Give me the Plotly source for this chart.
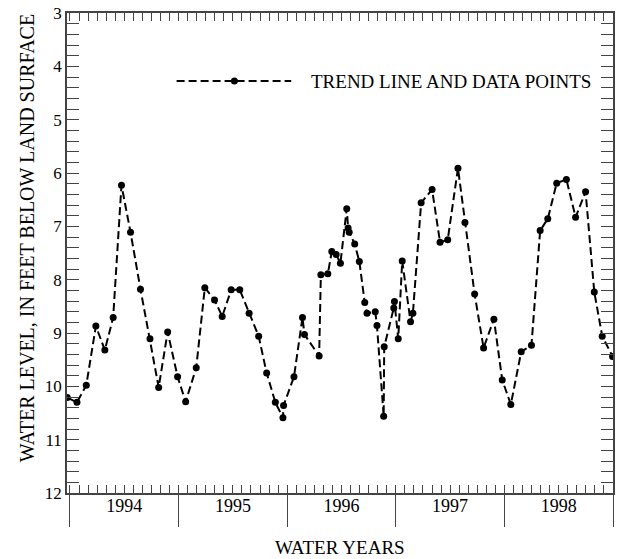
import plotly.graph_objects as go

# months since the start of water year 1994 (Oct 1993)
months = [-0.30, 0.77, 1.80, 2.86, 3.85, 4.77, 5.69, 6.69, 7.79, 8.84,
          9.80, 10.79, 11.89, 12.78, 13.95, 14.90, 15.97, 16.82, 17.81, 18.76,
          19.79, 20.85, 21.73, 22.69, 23.53, 23.60, 24.75, 25.69, 25.91, 27.53,
          27.72, 28.49, 28.93, 29.41, 29.88, 30.58, 30.73, 30.85, 31.46, 31.97,
          32.57, 32.82, 33.73, 33.92, 34.66, 34.72, 35.78, 35.85, 36.27, 36.71,
          37.63, 37.89, 38.80, 40.01, 40.89, 41.74, 42.87, 43.64, 44.71, 45.70,
          46.84, 47.76, 48.71, 49.86, 50.99, 51.95, 52.79, 53.78, 54.85, 55.87,
          56.97, 57.93, 58.81, 59.95]
water_level = [10.21, 10.30, 9.98, 8.87, 9.32, 8.71, 6.23, 7.11, 8.18, 9.11,
               10.02, 8.98, 9.82, 10.29, 9.65, 8.15, 8.38, 8.69, 8.19, 8.19,
               8.63, 9.06, 9.75, 10.30, 10.59, 10.36, 9.82, 8.71, 9.03, 9.43,
               7.91, 7.89, 7.47, 7.53, 7.69, 6.67, 7.03, 7.11, 7.33, 7.66,
               8.43, 8.63, 8.60, 8.86, 10.56, 9.26, 8.53, 8.41, 9.11, 7.65,
               8.79, 8.63, 6.56, 6.31, 7.30, 7.25, 5.91, 6.93, 8.27, 9.28,
               8.74, 9.88, 10.34, 9.35, 9.23, 7.08, 6.86, 6.19, 6.12, 6.83,
               6.35, 8.23, 9.06, 9.44]

year_bounds = [0, 12, 24, 36, 48, 60]
year_mids = [6, 18, 30, 42, 54]
year_labels = ['1994', '1995', '1996', '1997', '1998']

FONT = 'Liberation Serif'
AXC = '#444'

fig = go.Figure()
fig.add_trace(go.Scatter(
    x=months, y=water_level,
    mode='lines+markers',
    line=dict(color='black', width=2, dash='8px,4px'),
    marker=dict(color='black', size=7),
    name='TREND LINE AND DATA POINTS',
    showlegend=False
))
# invisible copies so the overlay axes (year ticks and labels) get drawn
for ax in ['x2', 'x3']:
    fig.add_trace(go.Scatter(x=months, y=water_level, xaxis=ax, mode='lines',
                             opacity=0, hoverinfo='skip', showlegend=False))

xr = [-0.33, 60]

fig.update_layout(
    width=618, height=559,
    margin=dict(l=67, r=3, t=13, b=66),
    paper_bgcolor='white', plot_bgcolor='white',
    font=dict(family=FONT, size=16, color='black'),
    showlegend=False,
    xaxis=dict(
        range=xr, showgrid=False, zeroline=False,
        showline=True, linecolor=AXC, linewidth=1.5, mirror='allticks',
        ticks='inside', tick0=0, dtick=1, ticklen=8, tickwidth=1.2, tickcolor=AXC,
        showticklabels=False
    ),
    xaxis2=dict(
        range=xr, overlaying='x', anchor='y', side='bottom',
        showgrid=False, zeroline=False, showline=False,
        ticks='outside', tickvals=year_bounds, ticklen=33, tickwidth=1.2, tickcolor=AXC,
        showticklabels=False
    ),
    xaxis3=dict(
        range=xr, overlaying='x', anchor='y', side='bottom',
        showgrid=False, zeroline=False, showline=False,
        ticks='', tickvals=year_mids, ticktext=year_labels,
        tickfont=dict(family=FONT, size=18, color='black')
    ),
    yaxis=dict(
        range=[12, 3], showgrid=False, zeroline=False,
        showline=True, linecolor=AXC, linewidth=1.5, mirror='allticks',
        ticks='inside', tick0=3, dtick=1, ticklen=12, tickwidth=1.2, tickcolor=AXC,
        minor=dict(ticks='inside', dtick=0.2, ticklen=7, tickwidth=1.2, tickcolor=AXC),
        tickfont=dict(family=FONT, size=17, color='black')
    ),
)

# legend key drawn by hand so the line is as long as in the original
ly = (493 - 81) / 480
fig.add_shape(type='line', xref='paper', yref='paper',
              x0=(177 - 67) / 548, x1=(292 - 67) / 548, y0=ly, y1=ly,
              line=dict(color='black', width=2, dash='8px,4px'))
fig.add_shape(type='circle', xref='paper', yref='paper',
              xsizemode='pixel', ysizemode='pixel',
              xanchor=(235 - 67) / 548, yanchor=ly,
              x0=-3.5, x1=3.5, y0=-3.5, y1=3.5,
              fillcolor='black', line=dict(color='black', width=0))
fig.add_annotation(text='TREND LINE AND DATA POINTS', xref='paper', yref='paper',
                   x=(310 - 67) / 548, y=ly, xanchor='left', yanchor='middle',
                   showarrow=False, font=dict(family=FONT, size=19, color='black'))

fig.add_annotation(text='WATER LEVEL, IN FEET BELOW LAND SURFACE',
                   xref='paper', yref='paper', x=(27 - 67) / 548, y=(493 - 238) / 480,
                   xanchor='center', yanchor='middle', textangle=-90, showarrow=False,
                   font=dict(family=FONT, size=20, color='black'))
fig.add_annotation(text='WATER YEARS', xref='paper', yref='paper',
                   x=0.5, y=(493 - 547) / 480, xanchor='center', yanchor='middle',
                   showarrow=False, font=dict(family=FONT, size=19, color='black'))

fig.write_html("out.html", config={'displayModeBar': False},
               post_script="document.body.style.margin='0';")
